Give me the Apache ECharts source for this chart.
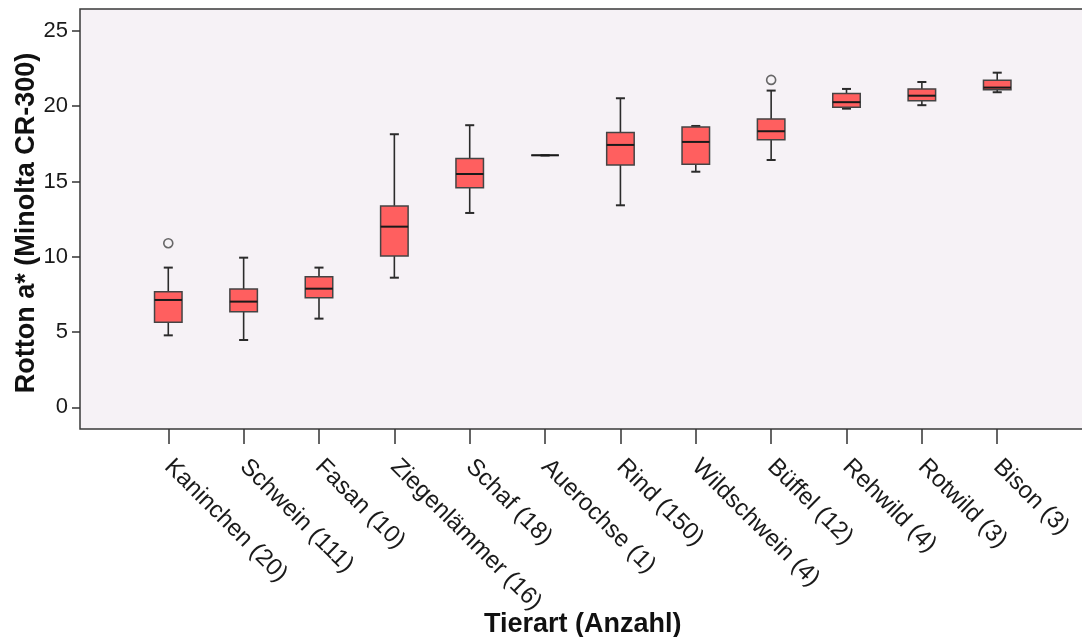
<!DOCTYPE html>
<html>
<head>
<meta charset="utf-8">
<script src="https://cdn.jsdelivr.net/npm/echarts@6/dist/echarts.min.js"></script>
<style>
html,body{margin:0;padding:0;background:#ffffff;}
#chart{width:1082px;height:637px;}
</style>
</head>
<body>
<div id="chart"></div>
<script>
// Categories (Tierart with count)
const categories = ['Kaninchen (20)','Schwein (111)','Fasan (10)','Ziegenlämmer (16)','Schaf (18)','Auerochse (1)','Rind (150)','Wildschwein (4)','Büffel (12)','Rehwild (4)','Rotwild (3)','Bison (3)'];
// Box statistics per category
const whiskerLow = [4.78, 4.47, 5.89, 8.61, 12.91, 16.74, 13.42, 15.65, 16.43, 19.84, 20.07, 20.93];
const q1         = [5.65, 6.35, 7.28, 10.05, 14.59, 16.74, 16.10, 16.15, 17.78, 19.93, 20.37, 21.10];
const median     = [7.13, 7.02, 7.88, 12.00, 15.50, 16.74, 17.43, 17.63, 18.34, 20.27, 20.70, 21.24];
const q3         = [7.68, 7.86, 8.68, 13.38, 16.52, 16.74, 18.25, 18.62, 19.16, 20.84, 21.15, 21.73];
const whiskerHigh= [9.28, 9.94, 9.28, 18.14, 18.74, 16.74, 20.53, 18.69, 21.04, 21.15, 21.61, 22.23];
// Outliers: [category index, value]
const outlierCat = [0, 8];
const outlierVal = [10.9, 21.75];
// Y axis ticks
const yTicks = [0, 5, 10, 15, 20, 25];
const yMin = -1.442, yMax = 26.46;

const boxData = categories.map((c, i) => [i, whiskerLow[i], q1[i], median[i], q3[i], whiskerHigh[i]]);
const outData = outlierCat.map((c, i) => [c, outlierVal[i]]);

const FONT = "'Liberation Sans', Arial, sans-serif";
const chart = echarts.init(document.getElementById('chart'), null, {renderer: 'canvas'});

function renderBox(params, api) {
  const idx = api.value(0);
  const pLow = api.coord([idx, api.value(1)]);
  const pQ1 = api.coord([idx, api.value(2)]);
  const pMed = api.coord([idx, api.value(3)]);
  const pQ3 = api.coord([idx, api.value(4)]);
  const pHigh = api.coord([idx, api.value(5)]);
  const band = api.size([1, 0])[0];
  const bw = band * 0.365;
  const cap = band * 0.12;
  const cx = pMed[0];
  const stroke = '#2b2b2b';
  return {
    type: 'group',
    children: [
      {type: 'line', shape: {x1: cx, y1: pHigh[1], x2: cx, y2: pQ3[1]}, style: {stroke: stroke, lineWidth: 1.6}},
      {type: 'line', shape: {x1: cx, y1: pQ1[1], x2: cx, y2: pLow[1]}, style: {stroke: stroke, lineWidth: 1.6}},
      {type: 'line', shape: {x1: cx - cap / 2, y1: pHigh[1], x2: cx + cap / 2, y2: pHigh[1]}, style: {stroke: stroke, lineWidth: 2}},
      {type: 'line', shape: {x1: cx - cap / 2, y1: pLow[1], x2: cx + cap / 2, y2: pLow[1]}, style: {stroke: stroke, lineWidth: 2}},
      {type: 'rect', shape: {x: cx - bw / 2, y: pQ3[1], width: bw, height: pQ1[1] - pQ3[1]}, style: {fill: '#FF5F5F', stroke: '#444444', lineWidth: 1.5}},
      {type: 'line', shape: {x1: cx - bw / 2, y1: pMed[1], x2: cx + bw / 2, y2: pMed[1]}, style: {stroke: '#1a1a1a', lineWidth: 2}}
    ]
  };
}

const option = {
  animation: false,
  backgroundColor: '#ffffff',
  grid: [
    {left: 80, top: 9, right: -6, bottom: 208, show: true, backgroundColor: '#F6F2F6', borderColor: '#3a3a3a', borderWidth: 1.5, containLabel: false, outerBoundsMode: 'none'},
    {left: 130.6, top: 9, width: 904.3, bottom: 208, show: false, containLabel: false, outerBoundsMode: 'none'}
  ],
  xAxis: [
    {gridIndex: 0, type: 'value', show: false, min: 0, max: 1},
    {
      gridIndex: 1, type: 'category', data: categories, boundaryGap: true, position: 'bottom',
      name: 'Tierart (Anzahl)', nameLocation: 'middle', nameGap: 182, nameMoveOverlap: false,
      nameTextStyle: {fontFamily: FONT, fontSize: 27, fontWeight: 'bold', color: '#111'},
      axisLine: {show: false, onZero: false},
      axisTick: {show: true, inside: false, alignWithLabel: true, length: 15, lineStyle: {color: '#333', width: 1.5}},
      axisLabel: {rotate: -45, fontFamily: FONT, fontSize: 24, color: '#1a1a1a', margin: 34, interval: 0},
      splitLine: {show: false}
    }
  ],
  yAxis: [
    {
      gridIndex: 0, type: 'value', min: yMin, max: yMax,
      name: 'Rotton a* (Minolta CR-300)', nameLocation: 'middle', nameGap: 40, nameRotate: 90, nameMoveOverlap: false,
      nameTextStyle: {fontFamily: FONT, fontSize: 27, fontWeight: 'bold', color: '#111', padding: [0, 8, 0, 0]},
      axisLine: {show: false, onZero: false},
      axisTick: {show: true, length: 8, customValues: yTicks, lineStyle: {color: '#333', width: 1.5}},
      axisLabel: {fontFamily: FONT, fontSize: 22, color: '#1a1a1a', margin: 12, customValues: yTicks},
      splitLine: {show: false}
    },
    {gridIndex: 1, type: 'value', show: false, min: yMin, max: yMax}
  ],
  series: [
    {
      type: 'custom', xAxisIndex: 1, yAxisIndex: 1,
      renderItem: renderBox,
      encode: {x: 0, y: [1, 2, 3, 4, 5]},
      data: boxData, clip: false
    },
    {
      type: 'scatter', xAxisIndex: 1, yAxisIndex: 1,
      symbol: 'circle', symbolSize: 9,
      itemStyle: {color: '#F6F2F6', borderColor: '#444', borderWidth: 1.6},
      data: outData
    }
  ]
};
chart.setOption(option);
</script>
</body>
</html>
